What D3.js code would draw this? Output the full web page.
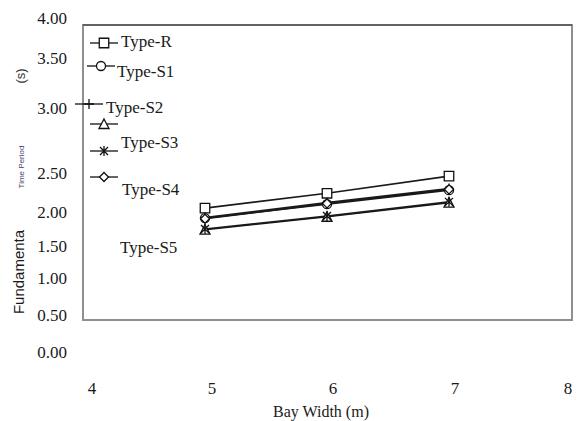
<!DOCTYPE html>
<html>
<head>
<meta charset="utf-8">
<script src="https://cdn.jsdelivr.net/npm/d3@7"></script>
<style>
	body { margin:0; background:#fff; }
	svg text { font-family: "Liberation Serif", "Times New Roman", serif; fill:#1a1a1a; }
	.sans { font-family: "Liberation Sans", Arial, sans-serif !important; }
</style>
</head>
<body>
<svg id="chart" width="588" height="421"></svg>
<script>
(function() {

	// DATA
	var bayWidths = [5, 6, 7];
	var seriesNames = ['Type-R', 'Type-S1', 'Type-S2', 'Type-S3', 'Type-S4', 'Type-S5'];
	var typeR  = [2.05, 2.24, 2.46];
	var typeS1 = [1.91, 2.10, 2.28];
	var typeS2 = [1.92, 2.12, 2.30];
	var typeS3 = [1.74, 1.93, 2.12];
	var typeS4 = [1.75, 1.94, 2.13];
	var typeS5 = [1.90, 2.11, 2.29];
	var xTicks = [4, 5, 6, 7, 8];
	var yTicks = [0, 0.5, 1, 1.5, 2, 2.5, 3, 3.5, 4];

	var seriesValues = [typeR, typeS1, typeS2, typeS3, typeS4, typeS5];
	var markers = ['square', 'circle', 'plus', 'triangle', 'star', 'diamond'];

	//VARS
	var svg = d3.select('#chart');
	var frame = { left:83, top:25, right:572, bottom:320 };

	// the original figure's labels sit unevenly, so the scales are piecewise
	var x = d3.scaleLinear().domain([4, 8]).range([frame.left, frame.right - 1]);
	var xLabel = d3.scaleLinear().domain(xTicks).range([92, 212, 333, 455, 568]);
	var y = d3.scaleLinear().domain(yTicks).range([352, 315, 278, 246, 212, 173, 108, 58, 18]);

	var series = seriesNames.map(function(name, i) {
		return {
			name: name,
			marker: markers[i],
			values: bayWidths.map(function(b, j) { return { x: b, y: seriesValues[i][j] }; })
		};
	});

	function markerPath(type) {
		if (type === 'square') return d3.symbol(d3.symbolSquare, 90)();
		if (type === 'circle') return d3.symbol(d3.symbolCircle, 64)();
		if (type === 'triangle') return 'M0,-5L5,4.5L-5,4.5Z';
		if (type === 'diamond') return 'M0,-4.5L4.5,0L0,4.5L-4.5,0Z';
		if (type === 'plus') return 'M0,-5L0,5M-5,0L5,0';
		if (type === 'star') return 'M-4,-4L4,4M-4,4L4,-4M0,-5L0,5';
		return '';
	}

	function drawMarker(sel, type) {
		sel.append('path')
			.attr('d', markerPath(type))
			.attr('fill', (type === 'plus' || type === 'star') ? 'none' : '#fff')
			.attr('stroke', '#111')
			.attr('stroke-width', 1.3);
	}

	// FRAME
	svg.append('rect')
		.attr('x', frame.left)
		.attr('y', frame.top)
		.attr('width', frame.right - frame.left)
		.attr('height', frame.bottom - frame.top)
		.attr('fill', 'none')
		.attr('stroke', '#8f8f8f')
		.attr('stroke-width', 2);

	svg.append('line')
		.attr('x1', frame.left).attr('x2', frame.right)
		.attr('y1', frame.top).attr('y2', frame.top)
		.attr('stroke', '#555')
		.attr('stroke-width', 1.5);

	// AXES LABELS
	svg.append('g').selectAll('text')
		.data(yTicks)
		.enter().append('text')
		.attr('x', 67)
		.attr('y', function(d) { return y(d); })
		.attr('dy', '0.33em')
		.attr('text-anchor', 'end')
		.style('font-size', '17px')
		.text(function(d) { return d3.format('.2f')(d); });

	svg.append('g').selectAll('text')
		.data(xTicks)
		.enter().append('text')
		.attr('x', function(d) { return xLabel(d); })
		.attr('y', 394)
		.attr('text-anchor', 'middle')
		.style('font-size', '17px')
		.text(function(d) { return d; });

	svg.append('text')
		.attr('x', 321)
		.attr('y', 417)
		.attr('text-anchor', 'middle')
		.style('font-size', '16px')
		.text('Bay Width (m)');

	svg.append('text')
		.attr('class', 'sans')
		.attr('text-anchor', 'middle')
		.attr('transform', 'translate(24,272)rotate(-90)')
		.style('font-size', '15px')
		.text('Fundamenta');

	svg.append('text')
		.attr('class', 'sans')
		.attr('text-anchor', 'middle')
		.attr('transform', 'translate(24,167)rotate(-90)')
		.style('font-size', '8px')
		.style('fill', '#4e4470')
		.text('Time Period');

	svg.append('text')
		.attr('class', 'sans')
		.attr('text-anchor', 'middle')
		.attr('transform', 'translate(25,76)rotate(-90)')
		.style('font-size', '13px')
		.style('fill', '#333')
		.text('(s)');

	// LINES
	var line = d3.line()
		.x(function(d) { return x(d.x); })
		.y(function(d) { return y(d.y); });

	var g = svg.append('g').attr('class', 'series');

	g.selectAll('path.line')
		.data(series)
		.enter().append('path')
		.attr('class', 'line')
		.attr('d', function(d) { return line(d.values); })
		.attr('fill', 'none')
		.attr('stroke', '#1a1a1a')
		.attr('stroke-width', 1.6);

	series.forEach(function(s) {
		s.values.forEach(function(v) {
			var m = g.append('g').attr('transform', 'translate(' + x(v.x) + ',' + y(v.y) + ')');
			drawMarker(m, s.marker);
		});
	});

	// LEGEND (symbols and names are out of step in the original)
	var legendSym = [
		{ x1:90, x2:118, y:43 },
		{ x1:87, x2:115, y:66 },
		{ x1:75, x2:103, y:104 },
		{ x1:90, x2:118, y:124 },
		{ x1:90, x2:118, y:151 },
		{ x1:90, x2:118, y:177 }
	];
	var legendText = [
		{ x:121, y:47 },
		{ x:117, y:77 },
		{ x:106, y:113 },
		{ x:121, y:148 },
		{ x:122, y:195 },
		{ x:120, y:253 }
	];

	var legend = svg.append('g').attr('class', 'legend');

	series.forEach(function(s, i) {
		var p = legendSym[i];
		legend.append('line')
			.attr('x1', p.x1).attr('x2', p.x2)
			.attr('y1', p.y).attr('y2', p.y)
			.attr('stroke', '#111')
			.attr('stroke-width', 1.3);
		var m = legend.append('g')
			.attr('transform', 'translate(' + ((p.x1 + p.x2) / 2) + ',' + p.y + ')');
		drawMarker(m, s.marker);

		legend.append('text')
			.attr('x', legendText[i].x)
			.attr('y', legendText[i].y)
			.style('font-size', '17px')
			.text(s.name);
	});

})()
</script>
</body>
</html>
